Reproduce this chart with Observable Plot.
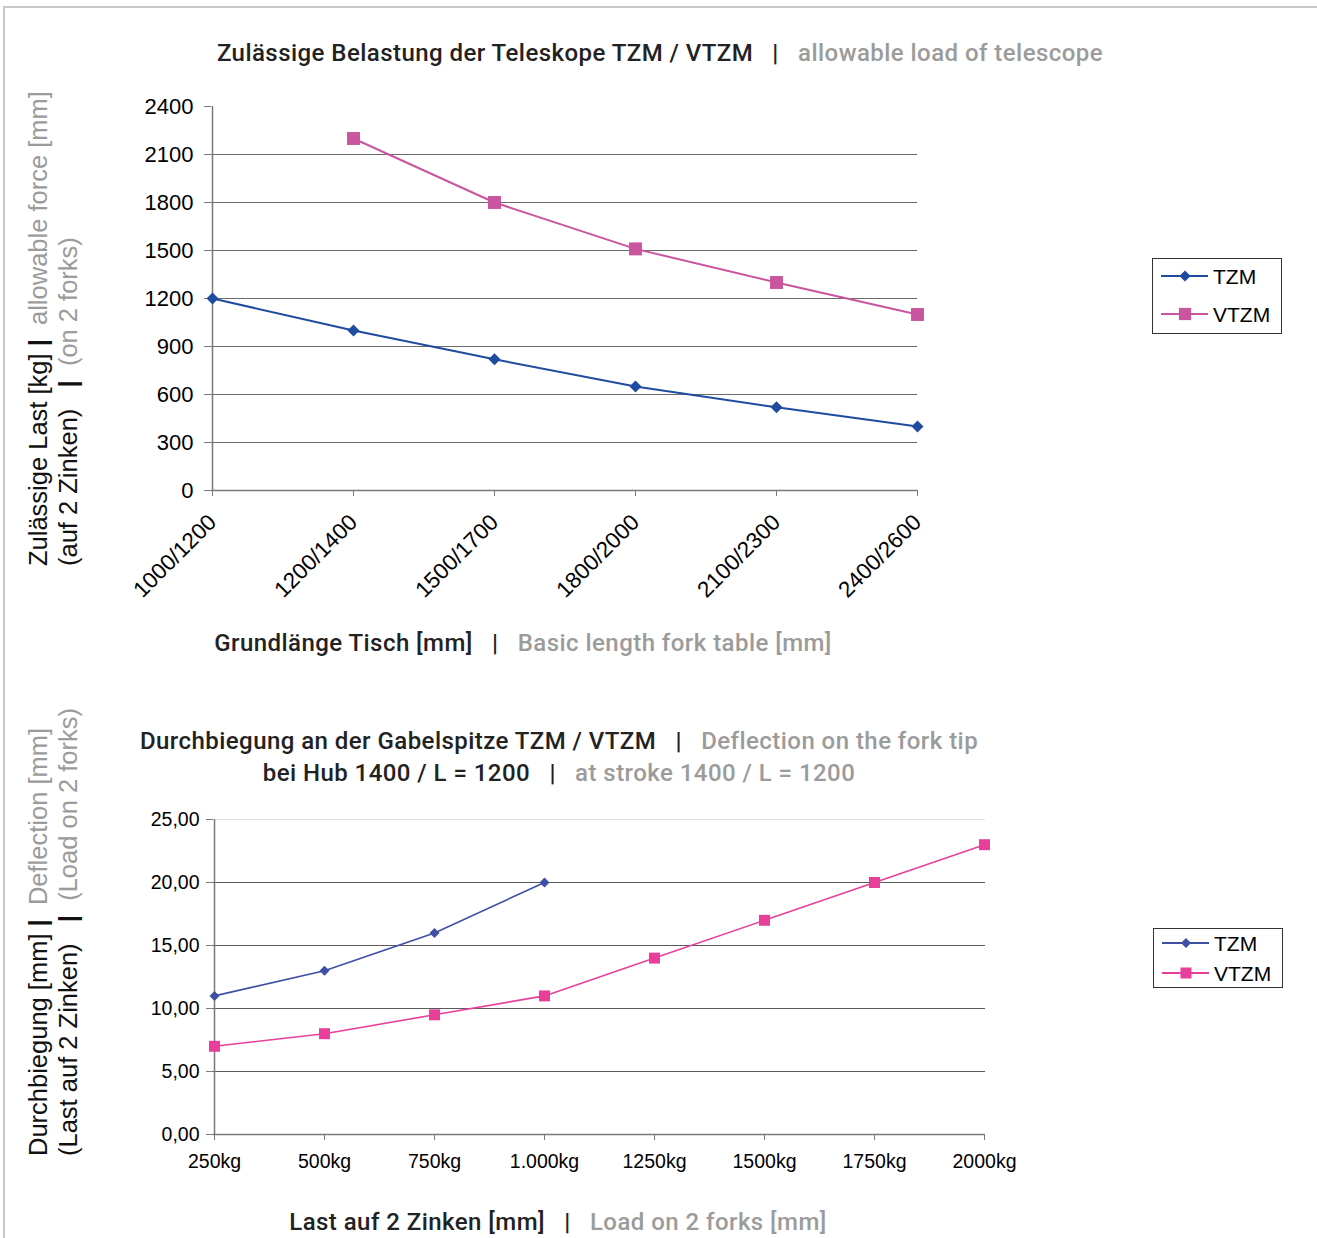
<!DOCTYPE html>
<html>
<head>
<meta charset="utf-8">
<script src="https://cdn.jsdelivr.net/npm/d3@7"></script>
<script src="https://cdn.jsdelivr.net/npm/@observablehq/plot@0.6"></script>
<style>
  html, body { margin: 0; padding: 0; background: #fff; }
  #root { position: relative; width: 1317px; height: 1238px; overflow: hidden; background: #fff; }
  .abs { position: absolute; }
  .plotwrap svg { background: transparent !important; max-width: none !important; }
  .title { font-family: "Roboto", "Liberation Sans", sans-serif; font-weight: 500; color: #222; white-space: pre; transform: translateX(-50%); letter-spacing: 0.45px; }
  .gray { color: #9b9b9b; }
  .ytitle { font-family: "Liberation Sans", Arial, sans-serif; font-size: 25.5px; color: #111; white-space: pre; transform-origin: 0 0; transform: rotate(-90deg); line-height: 30px; }
</style>
</head>
<body>
<div id="root"></div>
<script>
// ---------- DATA ----------
const cats1 = ["1000/1200", "1200/1400", "1500/1700", "1800/2000", "2100/2300", "2400/2600"];
const tzm1  = [1200, 1000, 820, 650, 520, 400];
const vtzm1 = [null, 2200, 1800, 1510, 1300, 1100];
const yTicks1 = [0, 300, 600, 900, 1200, 1500, 1800, 2100, 2400];
const grid1 = [300, 600, 900, 1200, 1500, 1800, 2100];

const cats2 = ["250kg", "500kg", "750kg", "1.000kg", "1250kg", "1500kg", "1750kg", "2000kg"];
const tzm2  = [11, 13, 16, 20, null, null, null, null];
const vtzm2 = [7, 8, 9.5, 11, 14, 17, 20, 23];
const yTicks2 = [0, 5, 10, 15, 20, 25];
const yTickLabels2 = ["0,00", "5,00", "10,00", "15,00", "20,00", "25,00"];
const grid2 = [5, 10, 15, 20];
const gridLight2 = [25];

const seriesNames = ["TZM", "VTZM"];
const colors1 = ["#1f4c9f", "#c9559f"];
const colors2 = ["#3f4fa4", "#e8409a"];

// ---------- helpers ----------
const root = document.getElementById("root");
function rows(cats, vals, name) {
  return cats.map((c, i) => ({ cat: c, value: vals[i], series: name })).filter(d => d.value != null);
}
function addDiv(cls, left, top, html, style = "") {
  const d = document.createElement("div");
  d.className = "abs " + cls;
  d.style.left = left + "px";
  d.style.top = top + "px";
  d.innerHTML = html;
  if (style) d.style.cssText += style;
  root.appendChild(d);
  return d;
}

// ---------- Chart 1 ----------
const d1 = [...rows(cats1, tzm1, "TZM"), ...rows(cats1, vtzm1, "VTZM")];
const H1 = 640;
const chart1 = Plot.plot({
  width: 1317, height: H1,
  marginLeft: 211, marginRight: 1317 - 917, marginTop: 106, marginBottom: H1 - 490,
  style: { fontFamily: "'Liberation Sans', Arial, sans-serif", fontSize: "22px", background: "transparent", color: "#000" },
  x: { type: "point", domain: cats1, padding: 0, align: 0.5 },
  y: { domain: [0, 2400] },
  marks: [
    Plot.ruleY(grid1, { stroke: "#6b6b6b", strokeWidth: 1 }),
    Plot.ruleX([cats1[0]], { y1: 0, y2: 2400, stroke: "#7a7a7a", strokeWidth: 1.5 }),
    Plot.ruleY([0], { stroke: "#7a7a7a", strokeWidth: 1.5 }),
    Plot.axisY({ ticks: yTicks1, tickFormat: d => String(d), tickSize: 7, tickPadding: 11, stroke: "#7a7a7a", fill: "#000", label: null }),
    Plot.axisX({ tickSize: 6, tickPadding: 22, tickRotate: -45, stroke: "#7a7a7a", fill: "#000", label: null, fontSize: 22.5 }),
    Plot.line(d1, { x: "cat", y: "value", z: "series", stroke: d => d.series === "TZM" ? colors1[0] : colors1[1], strokeWidth: 2 }),
    Plot.dot(d1.filter(d => d.series === "TZM"), { x: "cat", y: "value", symbol: "diamond2", r: 5.4, fill: colors1[0], stroke: "none" }),
    Plot.dot(d1.filter(d => d.series === "VTZM"), { x: "cat", y: "value", symbol: "square", r: 7.3, fill: colors1[1], stroke: "none" })
  ]
});
const w1 = document.createElement("div");
w1.className = "abs plotwrap";
w1.style.left = "0px"; w1.style.top = "0px";
w1.appendChild(chart1);
root.appendChild(w1);

// ---------- Chart 2 ----------
const top2 = 680;
const d2 = [...rows(cats2, tzm2, "TZM"), ...rows(cats2, vtzm2, "VTZM")];
const H2 = 540;
const chart2 = Plot.plot({
  width: 1317, height: H2,
  marginLeft: 213, marginRight: 1317 - 985, marginTop: 819 - top2, marginBottom: top2 + H2 - 1134,
  style: { fontFamily: "'Liberation Sans', Arial, sans-serif", fontSize: "19.5px", background: "transparent", color: "#000" },
  x: { type: "point", domain: cats2, padding: 0, align: 0.5 },
  y: { domain: [0, 25] },
  marks: [
    Plot.ruleY(gridLight2, { stroke: "#e2e2e2", strokeWidth: 1 }),
    Plot.ruleY(grid2, { stroke: "#5a5a5a", strokeWidth: 1 }),
    Plot.ruleX([cats2[0]], { y1: 0, y2: 25, stroke: "#7a7a7a", strokeWidth: 1.5 }),
    Plot.ruleY([0], { stroke: "#7a7a7a", strokeWidth: 1.5 }),
    Plot.axisY({ ticks: yTicks2, tickFormat: (d) => yTickLabels2[yTicks2.indexOf(d)], tickSize: 7, tickPadding: 7, stroke: "#7a7a7a", fill: "#000", label: null }),
    Plot.axisX({ tickSize: 6, tickPadding: 14, stroke: "#7a7a7a", fill: "#000", label: null }),
    Plot.line(d2, { x: "cat", y: "value", z: "series", stroke: d => d.series === "TZM" ? colors2[0] : colors2[1], strokeWidth: 1.6 }),
    Plot.dot(d2.filter(d => d.series === "TZM"), { x: "cat", y: "value", symbol: "diamond2", r: 4.5, fill: colors2[0], stroke: "none" }),
    Plot.dot(d2.filter(d => d.series === "VTZM"), { x: "cat", y: "value", symbol: "square", r: 6.2, fill: colors2[1], stroke: "none" })
  ]
});
const w2 = document.createElement("div");
w2.className = "abs plotwrap";
w2.style.left = "0px"; w2.style.top = top2 + "px";
w2.appendChild(chart2);
root.appendChild(w2);

// ---------- Frame lines ----------
addDiv("", 3, 6, "", "width:1314px;height:2px;background:#c8c8c8;");
addDiv("", 3, 6, "", "width:2px;height:1232px;background:#c8c8c8;");

// ---------- Titles ----------
const T = (a, b) => a + '   <b style="font-weight:600">|</b>   <span class="gray">' + b + '</span>';
addDiv("title", 660, 39, T("Zulässige Belastung der Teleskope TZM / VTZM", "allowable load of telescope"), "font-size:24px;");
addDiv("title", 523, 629, T("Grundlänge Tisch [mm]", "Basic length fork table [mm]"), "font-size:24px;");
addDiv("title", 559, 727, T("Durchbiegung an der Gabelspitze TZM / VTZM", "Deflection on the fork tip"), "font-size:24px;");
addDiv("title", 559, 759, T("bei Hub 1400 / L = 1200", "at stroke 1400 / L = 1200"), "font-size:24px;");
addDiv("title", 558, 1208, T("Last auf 2 Zinken [mm]", "Load on 2 forks [mm]"), "font-size:24px;");

// ---------- Y titles (rotated) ----------
const YT = (a, b) => a + ' <b>|</b>  <span class="gray">' + b + '</span>';
addDiv("ytitle", 23, 566, YT("Zulässige Last [kg]", "allowable force [mm]") + "\n" + YT("(auf 2 Zinken)  ", "(on 2 forks)"));
addDiv("ytitle", 23, 1156, YT("Durchbiegung [mm]", "Deflection [mm]") + "\n" + YT("(Last auf 2 Zinken)  ", "(Load on 2 forks)"));

// ---------- Legends ----------
function legend(x0, y0, w, h, ys, colors, sizes) {
  const svg = d3.create("svg").attr("width", w + 2).attr("height", h + 2)
    .style("position", "absolute").style("left", (x0 - 1) + "px").style("top", (y0 - 1) + "px").style("overflow", "visible");
  svg.append("rect").attr("x", 1.5).attr("y", 1.5).attr("width", w - 1).attr("height", h - 1)
    .attr("fill", "#fff").attr("stroke", "#333").attr("stroke-width", 1);
  seriesNames.forEach((name, i) => {
    const y = ys[i] - y0 + 1;
    svg.append("line").attr("x1", 10).attr("x2", 57).attr("y1", y).attr("y2", y)
      .attr("stroke", colors[i]).attr("stroke-width", 2);
    const sym = i === 0 ? d3.symbolDiamond2 : d3.symbolSquare;
    svg.append("path").attr("d", d3.symbol(sym, sizes[i])()).attr("transform", `translate(34,${y})`).attr("fill", colors[i]);
    svg.append("text").attr("x", 62).attr("y", y).attr("dy", "0.36em")
      .attr("font-family", "'Liberation Sans', Arial, sans-serif").attr("font-size", 21).attr("fill", "#000").text(name);
  });
  root.appendChild(svg.node());
}
legend(1152, 258, 130, 76, [276, 314], colors1, [80, 150]);
legend(1153, 928, 130, 60, [943, 973], colors2, [64, 121]);
</script>
</body>
</html>
